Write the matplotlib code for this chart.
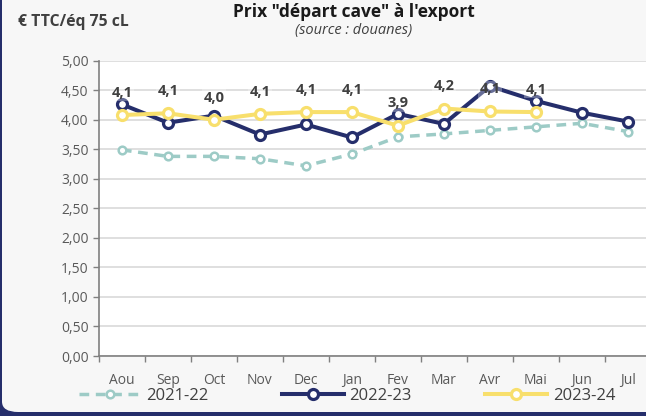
import numpy as np
import matplotlib
matplotlib.use("Agg")
import matplotlib.pyplot as plt
from matplotlib.patches import FancyBboxPatch
from matplotlib.ticker import FuncFormatter, FixedLocator

plt.rcParams['font.family'] = ['Open Sans', 'DejaVu Sans']

# données
mois = ['Aou', 'Sep', 'Oct', 'Nov', 'Dec', 'Jan', 'Fev', 'Mar', 'Avr', 'Mai', 'Jun', 'Jul']
prix_2021_22 = [3.49, 3.38, 3.38, 3.34, 3.22, 3.42, 3.71, 3.76, 3.82, 3.88, 3.94, 3.80]
prix_2022_23 = [4.26, 3.95, 4.07, 3.75, 3.92, 3.70, 4.10, 3.93, 4.57, 4.32, 4.12, 3.97]
prix_2023_24 = [4.08, 4.11, 4.00, 4.10, 4.13, 4.13, 3.90, 4.19, 4.14, 4.13]
saisons = ['2021-22', '2022-23', '2023-24']

c_teal = '#9dcbc6'
c_navy = '#252e6b'
c_jaune = '#f8df6c'
c_texte = '#404040'

fig = plt.figure(figsize=(6.46, 4.16), dpi=100)
fig.patch.set_facecolor(c_navy)
# carte grise aux coins arrondis (bord bleu a gauche et en bas)
carte = FancyBboxPatch((2 / 646, 4 / 416), 1.2, 1.2,
                       boxstyle="round,pad=0,rounding_size=0.025",
                       transform=fig.transFigure, facecolor='#f7f7f7',
                       edgecolor='none', zorder=-1)
fig.patches.append(carte)

ax = fig.add_axes([98.9 / 646, 60 / 416, 552 / 646, 295.3 / 416])
ax.set_facecolor('white')
x = np.arange(len(mois))

ax.plot(x, prix_2021_22, color=c_teal, lw=2.5, dashes=(2.8, 1.9),
        marker='o', ms=5.5, mfc='white', mec=c_teal, mew=1.8, zorder=3)
ax.plot(x, prix_2022_23, color=c_navy, lw=2.9, marker='o', ms=7.2,
        mfc='white', mec=c_navy, mew=2.3, zorder=4)
x24 = x[:len(prix_2023_24)]
ax.plot(x24, prix_2023_24, color=c_jaune, lw=2.9, marker='o', ms=7.2,
        mfc='white', mec=c_jaune, mew=2.3, zorder=5)

# étiquettes 2023-24
for xi, v in zip(x24, prix_2023_24):
    ax.annotate(f"{v:.1f}".replace('.', ','), (xi, v), xytext=(0, 16),
                textcoords='offset points', ha='center', va='center',
                fontsize=10.5, fontweight='bold', color=c_texte, zorder=6,
                bbox=dict(boxstyle='square,pad=0.1', fc='white', ec='none', alpha=0.3))

ax.set_xlim(-0.5, len(mois) - 0.5)
ax.set_ylim(0, 5)
ax.set_yticks(np.arange(0, 5.01, 0.5))
ax.yaxis.set_major_formatter(FuncFormatter(lambda v, p: f"{v:.2f}".replace('.', ',')))
ax.set_xticks(x)
ax.set_xticklabels(mois)
ax.xaxis.set_minor_locator(FixedLocator(np.arange(-0.5, len(mois), 1)))
ax.tick_params(axis='x', which='major', length=0, pad=12, labelsize=10, labelcolor='#595959')
ax.tick_params(axis='x', which='minor', length=4, width=1, color='#808080', direction='out')
ax.tick_params(axis='y', length=4, width=1, color='#808080', labelsize=10, labelcolor='#595959')
ax.grid(axis='y', color='#d9d9d9', lw=1.2, zorder=0)
ax.set_axisbelow(True)
for s in ['top', 'right']:
    ax.spines[s].set_visible(False)
ax.spines['left'].set_color('#808080')
ax.spines['bottom'].set_color('#808080')
ax.spines['left'].set_linewidth(1.2)
ax.spines['bottom'].set_linewidth(1.2)

fig.text(354 / 646, 1 - 12 / 416, 'Prix "départ cave" à l\'export', ha='center', va='center',
         fontsize=12.5, fontweight='bold', color='#1a1a1a')
fig.text(354 / 646, 1 - 30.5 / 416, '(source : douanes)', ha='center', va='center',
         fontsize=10.5, style='italic', color='#404040')
fig.text(18 / 646, 1 - 22 / 416, '€ TTC/éq 75 cL', ha='left', va='center',
         fontsize=11.3, fontweight='bold', color='#404040')

# légende
handles = ax.get_lines()
leg = fig.legend(handles, saisons, loc='center', bbox_to_anchor=(347 / 646, 20 / 416),
                 ncol=3, frameon=False, fontsize=12, handlelength=3.7,
                 handletextpad=0.35, columnspacing=4.4, labelcolor=c_texte)

fig.savefig('out.png', dpi=100, facecolor=fig.get_facecolor())
